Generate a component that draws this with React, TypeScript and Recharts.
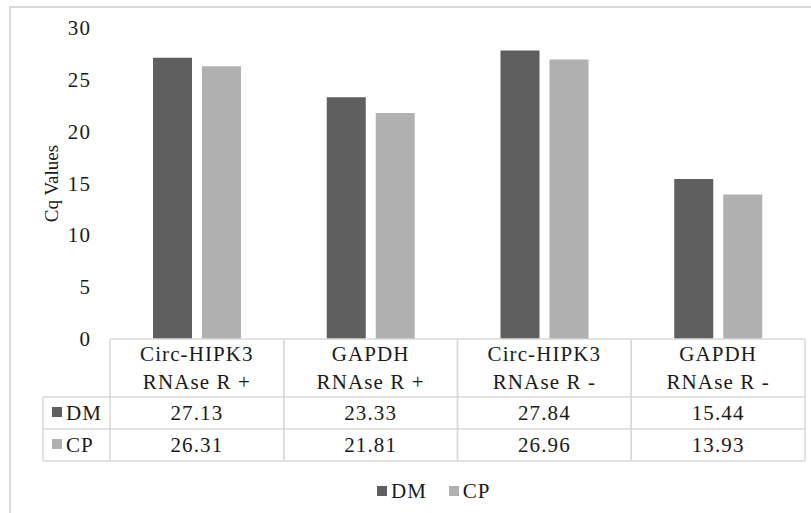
import { Bar, BarChart, XAxis, YAxis } from "recharts";

const geneNames = ["Circ-HIPK3", "GAPDH", "Circ-HIPK3", "GAPDH"];
const treatments = ["RNAse R +", "RNAse R +", "RNAse R -", "RNAse R -"];
const dmValues = [27.13, 23.33, 27.84, 15.44];
const cpValues = [26.31, 21.81, 26.96, 13.93];
const yTicks = [0, 5, 10, 15, 20, 25, 30];

const DM_COLOR = "#5f5f5f";
const CP_COLOR = "#b0b0b0";
const GRID = "#d9d9d9";
const TEXT = "#1a1a1a";
const FONT = "Liberation Serif, serif";

const W = 811;
const H = 513;
const PLOT_LEFT = 110;
const PLOT_RIGHT = 6;
const TABLE_H = 174;

const data = geneNames.map((g, i) => ({
  key: `c${i}`,
  gene: g,
  treat: treatments[i],
  DM: dmValues[i],
  CP: cpValues[i],
}));

const bandWidth = (W - PLOT_LEFT - PLOT_RIGHT) / data.length;
const textStyle = { fontFamily: FONT, fontSize: 21, fill: TEXT, letterSpacing: 1.1 };

function TableColumn(props: any) {
  const { x, y, index } = props;
  const row = data[index];
  const left = x - bandWidth / 2;
  const right = x + bandWidth / 2;
  const rowLeft = 43;
  const line = { stroke: GRID, strokeWidth: 1.5 };
  const mid = { style: textStyle, textAnchor: "middle" as const, dominantBaseline: "central" as const };
  const start = { style: textStyle, textAnchor: "start" as const, dominantBaseline: "central" as const };
  return (
    <g>
      <line x1={left} x2={right} y1={y} y2={y} {...line} />
      <line x1={left} x2={left} y1={y} y2={y + 122} {...line} />
      <line x1={right} x2={right} y1={y} y2={y + 122} {...line} />
      {[58, 90, 122].map((d) => (
        <line key={d} x1={index === 0 ? rowLeft : left} x2={right} y1={y + d} y2={y + d} {...line} />
      ))}
      {index === 0 && (
        <g>
          <line x1={rowLeft} x2={rowLeft} y1={y + 58} y2={y + 122} {...line} />
          <rect x={52} y={y + 68} width={10} height={10} fill={DM_COLOR} />
          <text x={66} y={y + 74} {...start}>DM</text>
          <rect x={52} y={y + 100} width={10} height={10} fill={CP_COLOR} />
          <text x={66} y={y + 106} {...start}>CP</text>
        </g>
      )}
      <text x={x} y={y + 15} {...mid}>{row.gene}</text>
      <text x={x} y={y + 43} {...mid}>{row.treat}</text>
      <text x={x} y={y + 74} {...mid}>{row.DM.toFixed(2)}</text>
      <text x={x} y={y + 106} {...mid}>{row.CP.toFixed(2)}</text>
    </g>
  );
}

function YTick(props: any) {
  const { x, y, payload } = props;
  return (
    <text x={x + 1} y={y} textAnchor="end" dominantBaseline="central" style={textStyle}>
      {payload.value}
    </text>
  );
}

export default function App() {
  return (
    <div style={{ position: "relative", width: W, height: H, background: "#fff", fontFamily: FONT }}>
      <style>{"body{margin:0;}"}</style>
      <div
        style={{
          position: "absolute",
          left: 9,
          top: 6,
          width: W - 9,
          height: H - 6,
          borderTop: `2px solid ${GRID}`,
          borderLeft: `2px solid ${GRID}`,
          boxSizing: "border-box",
        }}
      />
      <div style={{ position: "absolute", left: 0, top: 0 }}>
        <BarChart
          width={W}
          height={H}
          data={data}
          margin={{ top: 28, right: PLOT_RIGHT, left: 40, bottom: 0 }}
          barSize={39}
          barGap={10}
        >
          <XAxis
            dataKey="key"
            height={TABLE_H}
            axisLine={false}
            tickLine={false}
            tickSize={0}
            tickMargin={0}
            interval={0}
            tick={<TableColumn />}
          />
          <YAxis
            width={70}
            domain={[0, 30]}
            ticks={yTicks}
            axisLine={false}
            tickLine={false}
            tickSize={0}
            tickMargin={20}
            tick={<YTick />}
            label={{
              value: "Cq Values",
              angle: -90,
              position: "insideLeft",
              offset: 11,
              style: { fontFamily: FONT, fontSize: 19, fill: TEXT, textAnchor: "middle" },
            }}
          />
          <Bar dataKey="DM" fill={DM_COLOR} isAnimationActive={false} />
          <Bar dataKey="CP" fill={CP_COLOR} isAnimationActive={false} />
        </BarChart>
      </div>
      <div
        style={{
          position: "absolute",
          left: 377,
          top: 478,
          display: "flex",
          alignItems: "center",
          fontFamily: FONT,
          fontSize: 21,
          letterSpacing: 1,
          color: TEXT,
          lineHeight: "26px",
        }}
      >
        <span style={{ width: 10, height: 10, background: DM_COLOR, display: "inline-block", marginRight: 4 }} />
        <span>DM</span>
        <span style={{ width: 10, height: 10, background: CP_COLOR, display: "inline-block", marginLeft: 22, marginRight: 4 }} />
        <span>CP</span>
      </div>
    </div>
  );
}
